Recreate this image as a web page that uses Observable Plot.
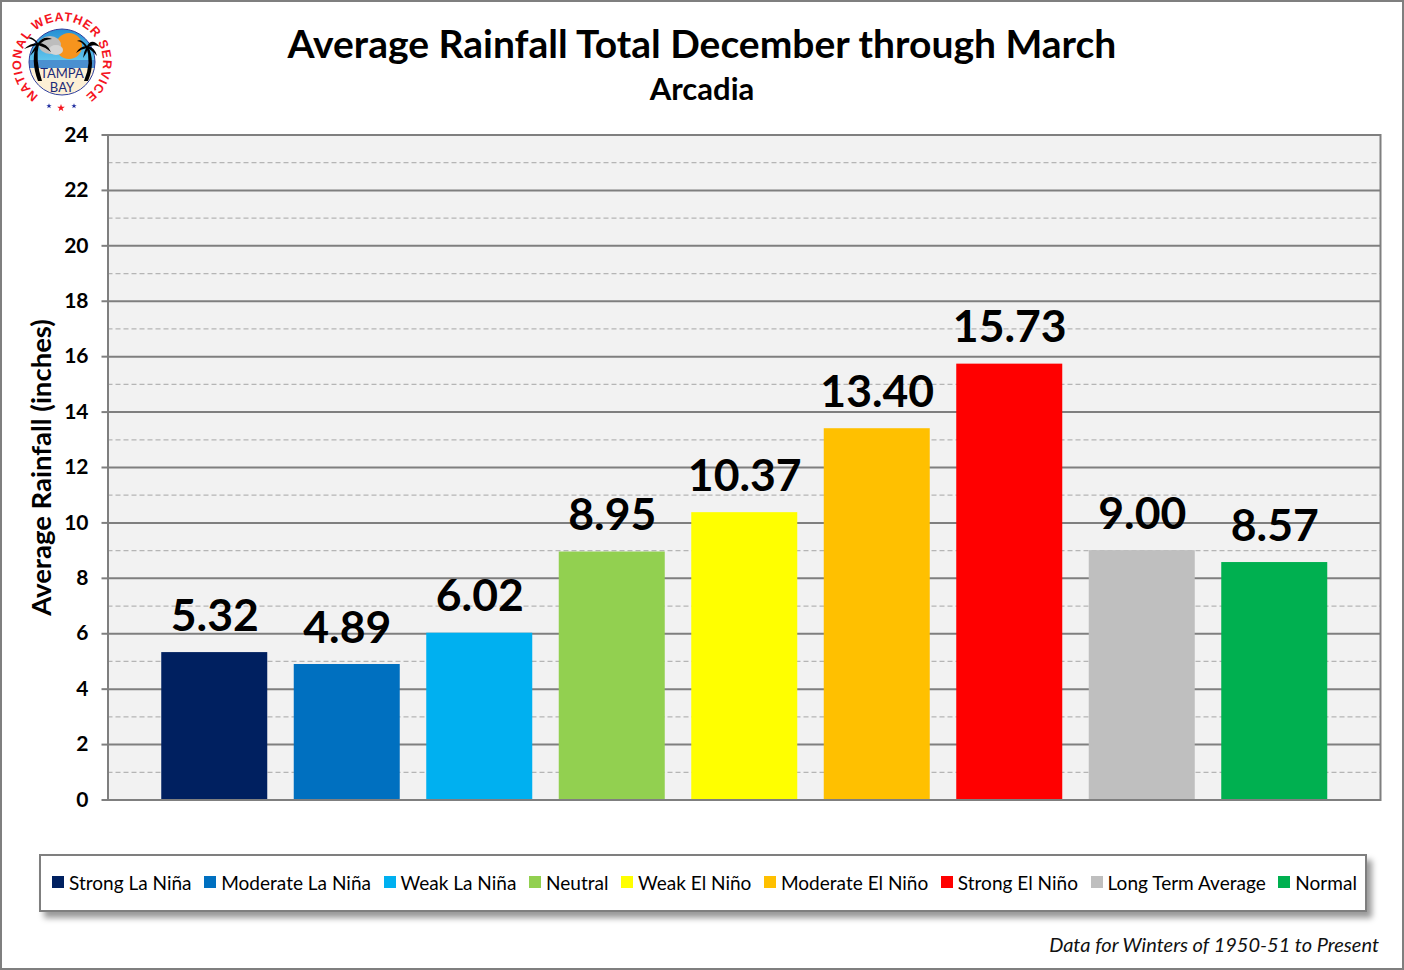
<!DOCTYPE html>
<html>
<head>
<meta charset="utf-8">
<script src="https://cdn.jsdelivr.net/npm/d3@7"></script>
<script src="https://cdn.jsdelivr.net/npm/@observablehq/plot@0.6"></script>
<style>
html,body{margin:0;padding:0;background:#fff;}
#page{position:relative;width:1404px;height:970px;font-family:Lato,sans-serif;color:#000;overflow:hidden;}
#border{position:absolute;left:0;top:0;width:1404px;height:970px;box-sizing:border-box;border:2px solid #7f7f7f;pointer-events:none;}
#logo{position:absolute;left:0;top:0;}
#title{position:absolute;left:0;width:1404px;top:18px;text-align:center;font-size:39px;font-weight:700;line-height:50px;}
#subtitle{position:absolute;left:0;width:1404px;top:70px;text-align:center;font-size:31px;font-weight:700;line-height:36px;}
#chart{position:absolute;left:0;top:110px;}
#chart svg{display:block;}
#legend{position:absolute;left:39px;top:854px;width:1328px;height:58px;box-sizing:border-box;border:2px solid #7f7f7f;background:#fff;box-shadow:5px 6px 6px rgba(0,0,0,.4);display:flex;align-items:center;padding-left:11px;padding-bottom:2px;font-size:19.05px;white-space:nowrap;}
#legend .item{display:flex;align-items:center;margin-right:12.6px;}
#legend .sw{width:12px;height:12px;margin-right:5px;flex:none;}
#note{position:absolute;right:25px;top:932px;font-size:20px;font-style:italic;line-height:24px;color:#111;}
</style>
</head>
<body>
<div id="page">
  <svg id="logo" width="125" height="125" viewBox="0 0 125 125">
    <defs>
      <clipPath id="disc"><circle cx="62" cy="62" r="33"/></clipPath>
      <linearGradient id="sky" x1="0" y1="0" x2="0" y2="1"><stop offset="0" stop-color="#1e88d0"/><stop offset="1" stop-color="#63c8ee"/></linearGradient>
      <path id="ring" d="M38.5 95.6 A41 41 0 1 1 85.5 95.6"/>
      <path id="star" d="M0 -1 L.24 -.31 L.95 -.31 L.38 .12 L.59 .81 L0 .4 L-.59 .81 L-.38 .12 L-.95 -.31 L-.24 -.31 Z"/>
    </defs>
    <g clip-path="url(#disc)">
      <rect x="25" y="25" width="75" height="37" fill="url(#sky)"/>
      <circle cx="69" cy="46" r="13" fill="#f7941d"/>
      <ellipse cx="50" cy="45" rx="11" ry="9" fill="#bdbdbd"/>
      <ellipse cx="56" cy="50" rx="7" ry="5" fill="#d4d4d4"/>
      <rect x="25" y="60" width="75" height="8" fill="#4a90d0"/>
      <rect x="25" y="68" width="75" height="30" fill="#fdf0d5"/>
    </g>
    <circle cx="62" cy="62" r="33" fill="none" stroke="#2e3f9e" stroke-width="1"/>
    <g fill="#000">
      <path d="M38 81 Q30 60 37 43 L39 43 Q35 60 42 81 Z"/>
      <path d="M38 43 Q32 35 26 38 Q33 38 38 45 Z"/>
      <path d="M38 43 Q30 43 24 49 Q31 46 38 45 Z"/>
      <path d="M38 43 Q33 49 30 56 Q36 50 39 45 Z"/>
      <path d="M38 43 Q44 35 52 39 Q44 39 39 45 Z"/>
      <path d="M38 43 Q47 43 51 52 Q45 47 38 45 Z"/>
      <path d="M84 81 Q92 62 86 46 L88 46 Q96 62 88 81 Z"/>
      <path d="M87 46 Q81 38 77 41 Q82 41 86 48 Z"/>
      <path d="M87 46 Q80 46 76 53 Q81 49 87 48 Z"/>
      <path d="M87 46 Q92 37 100 47 Q93 43 87 48 Z"/>
      <path d="M87 46 Q95 47 97 56 Q92 50 87 48 Z"/>
      <path d="M87 46 Q84 51 83 58 Q87 53 88 48 Z"/>
    </g>
    <text text-anchor="middle" font-family="Lato" font-size="13" fill="#1c2a78"><tspan x="62" y="78">TAMPA</tspan><tspan x="62" y="92">BAY</tspan></text>
    <text font-family="'Liberation Sans'" font-weight="700" font-size="12.5" fill="#f5141e"><textPath href="#ring" textLength="207" lengthAdjust="spacing">NATIONAL WEATHER SERVICE</textPath></text>
    <use href="#star" transform="translate(49 106) scale(2.8)" fill="#1c2a9e"/>
    <use href="#star" transform="translate(61 108) scale(4)" fill="#f5141e"/>
    <use href="#star" transform="translate(74 106) scale(2.8)" fill="#1c2a9e"/>
  </svg>
  <div id="title"></div>
  <div id="subtitle"></div>
  <div id="chart"></div>
  <div id="legend"></div>
  <div id="note"></div>
  <div id="border"></div>
</div>
<script>
const titleText = "Average Rainfall Total December through March";
const subtitleText = "Arcadia";
const yLabel = "Average Rainfall (inches)";
const noteText = "Data for Winters of 1950-51 to Present";
const categories = ["Strong La Niña","Moderate La Niña","Weak La Niña","Neutral","Weak El Niño","Moderate El Niño","Strong El Niño","Long Term Average","Normal"];
const rainfall = [5.32,4.89,6.02,8.95,10.37,13.40,15.73,9.00,8.57];
const colors = ["#002060","#0070C0","#00B0F0","#92D050","#FFFF00","#FFC000","#FF0000","#BFBFBF","#00B050"];
const majorTicks = [0,2,4,6,8,10,12,14,16,18,20,22,24];
const minorTicks = [1,3,5,7,9,11,13,15,17,19,21,23];

const rows = categories.map((c,i)=>({category:c,value:rainfall[i],color:colors[i]}));

document.getElementById("title").textContent = titleText;
document.getElementById("subtitle").textContent = subtitleText;
document.getElementById("note").textContent = noteText;

const legend = document.getElementById("legend");
rows.forEach(r=>{
  const it=document.createElement("div");it.className="item";
  const sw=document.createElement("span");sw.className="sw";sw.style.background=r.color;
  const tx=document.createElement("span");tx.textContent=r.category;
  it.append(sw,tx);legend.append(it);
});

const chart = Plot.plot({
  width:1404,height:720,
  marginLeft:107.5,marginRight:24,marginTop:24.5,marginBottom:30.5,
  style:{fontFamily:"Lato, sans-serif",background:"transparent",color:"#000"},
  x:{domain:categories,range:[148,1340.5],paddingInner:0.2,paddingOuter:0.1,round:false,axis:null},
  y:{domain:[0,24],label:null},
  marks:[
    Plot.frame({fill:"#f2f2f2",stroke:"none"}),
    Plot.ruleY(minorTicks,{stroke:"#b5b5b5",strokeWidth:1.2,strokeDasharray:"5,3"}),
    Plot.ruleY(majorTicks,{stroke:"#7f7f7f",strokeWidth:2}),
    Plot.barY(rows,{x:"category",y:"value",fill:"color"}),
    Plot.frame({stroke:"#7f7f7f",strokeWidth:2}),
    Plot.axisY({ticks:majorTicks,tickSize:6,fill:"none",label:null,stroke:"#7f7f7f",strokeWidth:2,strokeOpacity:1}),
    Plot.axisY({ticks:majorTicks,tickSize:0,tickPadding:19.5,label:null,fontSize:21,fontWeight:700,fill:"#000",tickFormat:d=>String(d)}),
    Plot.text(rows,{x:"category",y:"value",text:d=>d.value.toFixed(2),lineAnchor:"bottom",dy:-22,fontSize:44.5,fontWeight:700,fill:"#000"}),
    Plot.text([yLabel],{frameAnchor:"left",textAnchor:"middle",dx:-66,rotate:-90,fontSize:27.5,fontWeight:700,fill:"#000"})
  ]
});
document.getElementById("chart").append(chart);
</script>
</body>
</html>
